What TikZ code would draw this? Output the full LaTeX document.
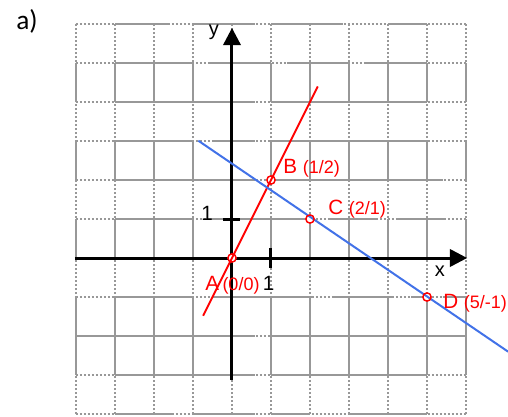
\documentclass[tikz,border=0pt]{standalone}
\usepackage{fontspec}
\setmainfont{Liberation Sans}
\newfontfamily\calfont{Carlito}
\usetikzlibrary{arrows.meta}
\definecolor{gridgray}{RGB}{152,152,152}
\definecolor{lineblue}{RGB}{66,114,232}
\definecolor{ptred}{RGB}{255,0,0}
\newcommand{\bigf}{\fontsize{15.5}{15.5}\selectfont}
\newcommand{\smf}{\fontsize{13.5}{13.5}\selectfont}
\newcommand{\axf}{\fontsize{15}{15}\selectfont}
\begin{document}
\begin{tikzpicture}[x=29.25pt,y=29.25pt,
  gridsolid/.style={draw=gridgray,line width=1.6pt},
  griddot/.style={draw=gridgray,line width=1.6pt,dash pattern=on 1.5pt off 1.5pt},
  axisline/.style={line width=2.25pt,-{Triangle[length=13pt,width=13pt]}},
  tickmark/.style={line width=2.25pt},
  ptfill/.style={circle,fill=white,minimum size=6.5pt,inner sep=0},
  ptring/.style={draw=ptred,line width=1.1pt},
  redline/.style={draw=ptred,line width=1.5pt},
  blueline/.style={draw=lineblue,line width=1.5pt},
  lbl/.style={text=ptred,inner sep=0,anchor=base west},
  axlbl/.style={inner sep=0,anchor=base}]
\useasboundingbox (-5.9487,-4.0513) rectangle (7.0769,6.6154);
% dotted grid
\foreach \i in {-4,...,6} {
  \draw[griddot] (\i,-4) -- (\i,6);
  \draw[griddot] (-4,\i) -- (6,\i);
}
% solid vertical parts
\foreach \i in {-4,...,6} {
  \foreach \a/\b in {4/5,2/3,0/1,-3/-1} {
    \draw[gridsolid] (\i,\a) -- (\i,\b);
  }
}
% solid horizontal parts
\foreach \r/\a/\b in {6/-3/-1.65, 6/-1/0.6, 6/1/2.85, 6/4/5,
  5/-3/-1, 5/-0.6/1, 5/1.4/3, 5/3.4/5,
  4/-3/0.6, 4/1/5,
  3/-3/-1, 3/-0.5/0.6, 3/1/5,
  2/-3/0.6, 2/1/5.4,
  1/-3/-1, 1/-0.6/2, 1/2.5/3.7, 1/4.2/5.5,
  -1/-3/-1, -1/-0.5/2.1, -1/2.6/4.1, -1/4.6/5, -1/5.4/6,
  -2/-4/0.6, -2/1/6,
  -3/-3/0.6, -3/1/5,
  -4/-3/-1.5, -4/-1/0.6, -4/1/2, -4/3/5} {
  \draw[gridsolid] (\a,\r) -- (\b,\r);
}
% axes
\coordinate (xs) at (-4.03,0);
\coordinate (xe) at (6.03,0);
\coordinate (ys) at (0,-3.13);
\coordinate (ye) at (0,5.9);
\draw[axisline] (xs) -- (xe);
\draw[axisline] (ys) -- (ye);
% ticks
\coordinate (t1a) at (-0.22,1);
\coordinate (t1b) at (0.2,1);
\coordinate (t2a) at (1,0.25);
\coordinate (t2b) at (1,-0.25);
\draw[tickmark] (t1a) -- (t1b);
\draw[tickmark] (t2a) -- (t2b);
% points (white inside)
\node[ptfill] (A) at (0,0) {};
\node[ptfill] (B) at (1,2) {};
\node[ptfill] (C) at (2,1) {};
\node[ptfill] (D) at (5,-1) {};
% lines
\coordinate (r1) at (-0.74,-1.48);
\coordinate (r2) at (2.2,4.4);
\draw[redline] (r1) -- (r2);
\coordinate (b1) at (-0.864,3.008);
\coordinate (b2) at (7.08,-2.402);
\draw[blueline] (b1) -- (b2);
% rings
\draw[ptring] (A.center) circle (3.1pt);
\draw[ptring] (B.center) circle (3.1pt);
\draw[ptring] (C.center) circle (3.1pt);
\draw[ptring] (D.center) circle (3.1pt);
% labels
\node[lbl] (lA) at (-0.692,-0.8205) {\bigf A\,\smf(0/0)};
\node[lbl] (lB) at (1.308,2.154) {\bigf B \smf(1/2)};
\node[lbl] (lC) at (2.462,1.103) {\bigf C \smf(2/1)};
\node[lbl] (lD) at (5.41,-1.282) {\bigf D \smf(5/-1)};
\node[axlbl] (one x) at (0.94,-0.8205) {\bigf 1};
\node[axlbl] (one y) at (-0.641,0.974) {\bigf 1};
\node[axlbl] (lx) at (5.333,-0.487) {\axf x};
\node[axlbl] (ly) at (-0.4615,5.718) {\axf y};
\node[inner sep=0] (title) at (-5.256,6.077) {\calfont\fontsize{20.5}{20.5}\selectfont a)};
\end{tikzpicture}
\end{document}
